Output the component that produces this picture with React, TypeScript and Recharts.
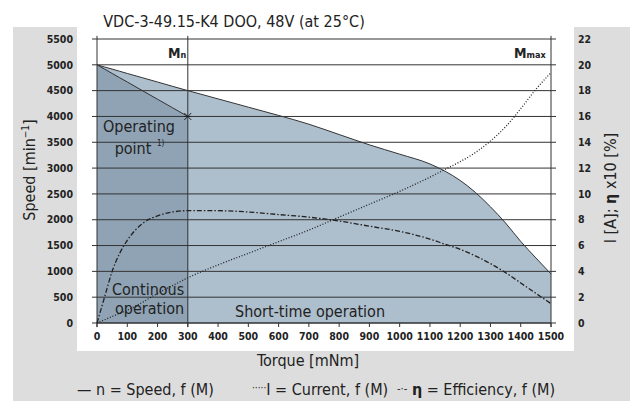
import React from "react";
import {
  ComposedChart,
  Area,
  Line,
  XAxis,
  YAxis,
  ReferenceLine,
  ReferenceDot,
} from "recharts";

// torque points [mNm] and the values read at each
const torque = [0, 25, 50, 75, 100, 150, 200, 250, 300, 400, 500, 600, 700, 800, 900, 1000, 1100, 1150, 1200, 1250, 1300, 1350, 1400, 1450, 1500];
const speed = [5000, 4958, 4917, 4875, 4833, 4750, 4667, 4583, 4500, 4340, 4180, 4020, 3850, 3650, 3450, 3270, 3080, 2940, 2760, 2530, 2250, 1935, 1580, 1260, 950];
const operating = [5000, 4917, 4833, 4750, 4667, 4500, 4333, 4167, 4000, null, null, null, null, null, null, null, null, null, null, null, null, null, null, null, null];
const current = [0, 0.25, 0.5, 0.75, 1.0, 1.6, 2.3, 2.9, 3.5, 4.5, 5.4, 6.3, 7.2, 8.2, 9.2, 10.2, 11.3, 11.9, 12.5, 13.2, 14.1, 15.2, 16.6, 18.1, 19.4];
const efficiency = [0, 2.0, 4.0, 5.4, 6.4, 7.7, 8.3, 8.6, 8.7, 8.7, 8.6, 8.4, 8.2, 7.9, 7.5, 7.1, 6.5, 6.1, 5.7, 5.2, 4.6, 3.9, 3.1, 2.3, 1.5];

const speedTicks = [0, 500, 1000, 1500, 2000, 2500, 3000, 3500, 4000, 4500, 5000, 5500];
const rightTicks = [0, 2, 4, 6, 8, 10, 12, 14, 16, 18, 20, 22];
const torqueTicks = [0, 100, 200, 300, 400, 500, 600, 700, 800, 900, 1000, 1100, 1200, 1300, 1400, 1500];

const FONT = "'Liberation Sans Narrow', 'DejaVu Sans Condensed', Arial, sans-serif";
const INK = "#222";
const GREY = "#dddddd";
const LIGHT = "#adbecd";
const DARK = "#8fa3b5";

const data = torque.map((t, i) => ({
  torque: t,
  speed: speed[i],
  operating: operating[i],
  current: current[i],
  efficiency: efficiency[i],
}));

const tickStyle = { fontSize: 10.5, fontWeight: 700, fill: INK, fontFamily: FONT };

const Asterisk = (props: any) => {
  const { cx, cy } = props;
  const r = 3.5;
  return (
    <g stroke={INK} strokeWidth={1}>
      <line x1={cx - r} y1={cy - r} x2={cx + r} y2={cy + r} />
      <line x1={cx - r} y1={cy + r} x2={cx + r} y2={cy - r} />
      <line x1={cx - r} y1={cy} x2={cx + r} y2={cy} />
    </g>
  );
};

export default function App() {
  return (
    <div style={{ position: "absolute", left: 0, top: 0, width: 630, height: 401, background: "#fff", fontFamily: FONT }}>
      {/* grey frame around the plot */}
      <div style={{ position: "absolute", left: 13, top: 27, width: 64, height: 374, background: GREY }} />
      <div style={{ position: "absolute", left: 574, top: 27, width: 56, height: 374, background: GREY }} />
      <div style={{ position: "absolute", left: 13, top: 351, width: 617, height: 50, background: GREY }} />

      <div style={{ position: "absolute", left: 0, top: 0 }}>
        <ComposedChart
          width={630}
          height={401}
          data={data}
          margin={{ top: 39, right: 39, bottom: 48, left: 57 }}
        >
          <XAxis
            dataKey="torque"
            type="number"
            domain={[0, 1500]}
            ticks={torqueTicks}
            interval={0}
            height={30}
            tick={tickStyle}
            tickSize={4}
            tickMargin={6}
            axisLine={{ stroke: "#333" }}
            tickLine={{ stroke: "#333" }}
          />
          <YAxis
            yAxisId="left"
            domain={[0, 5500]}
            ticks={speedTicks}
            interval={0}
            width={40}
            tick={tickStyle}
            tickSize={5}
            tickMargin={19}
            axisLine={false}
            tickLine={{ stroke: "#333" }}
          />
          <YAxis
            yAxisId="right"
            orientation="right"
            domain={[0, 22]}
            ticks={rightTicks}
            interval={0}
            width={40}
            tick={tickStyle}
            tickSize={5}
            tickMargin={22}
            axisLine={false}
            tickLine={{ stroke: "#333" }}
          />

          <Area
            yAxisId="left"
            dataKey="speed"
            type="monotone"
            fill={LIGHT}
            fillOpacity={1}
            stroke="#333"
            strokeWidth={1}
            isAnimationActive={false}
          />
          <Area
            yAxisId="left"
            dataKey="operating"
            type="linear"
            fill={DARK}
            fillOpacity={1}
            stroke="#333"
            strokeWidth={1}
            isAnimationActive={false}
          />

          {speedTicks.map((v) => (
            <ReferenceLine key={v} yAxisId="left" y={v} stroke="#333" strokeWidth={1} />
          ))}

          <ReferenceLine
            yAxisId="left"
            segment={[{ x: 0, y: -80 }, { x: 0, y: 5560 }]}
            stroke="#333"
            ifOverflow="visible"
          />
          <ReferenceLine
            yAxisId="left"
            segment={[{ x: 1500, y: -80 }, { x: 1500, y: 5560 }]}
            stroke="#333"
            ifOverflow="visible"
          />
          <ReferenceLine
            yAxisId="left"
            segment={[{ x: 300, y: -80 }, { x: 300, y: 5560 }]}
            stroke="#333"
            ifOverflow="visible"
          />

          <Line
            yAxisId="right"
            dataKey="current"
            type="monotone"
            stroke={INK}
            strokeWidth={1.3}
            strokeDasharray="1 1.8"
            dot={false}
            isAnimationActive={false}
          />
          <Line
            yAxisId="right"
            dataKey="efficiency"
            type="monotone"
            stroke={INK}
            strokeWidth={1.3}
            strokeDasharray="5 2 1.5 2"
            dot={false}
            isAnimationActive={false}
          />

          <ReferenceDot yAxisId="left" x={300} y={4000} r={3} shape={<Asterisk />} />
        </ComposedChart>
      </div>

      <svg
        width={630}
        height={401}
        style={{ position: "absolute", left: 0, top: 0, pointerEvents: "none" }}
        fontFamily={FONT}
        fill={INK}
      >
        <text x={234} y={27} fontSize={16} textAnchor="middle">
          VDC-3-49.15-K4 DOO, 48V (at 25°C)
        </text>

        <text x={168} y={58} fontSize={14} fontWeight={700}>
          M<tspan fontSize={9}>n</tspan>
        </text>
        <text x={514} y={58} fontSize={14} fontWeight={700}>
          M<tspan fontSize={9}>max</tspan>
        </text>

        <text x={139} y={132} fontSize={16} textAnchor="middle">Operating</text>
        <text x={133} y={154} fontSize={16} textAnchor="middle">point</text>
        <text x={157} y={146} fontSize={8}>1)</text>

        <text x={112} y={295} fontSize={16}>Continous</text>
        <text x={115} y={314} fontSize={16}>operation</text>
        <text x={235} y={317} fontSize={16}>Short-time operation</text>

        <text x={308} y={366} fontSize={16} textAnchor="middle">Torque [mNm]</text>

        <text x={35} y={170} fontSize={16} textAnchor="middle" transform="rotate(-90 35 170)">
          Speed [min<tspan dy={-6} fontSize={10}>−1</tspan><tspan dy={6}>]</tspan>
        </text>
        <text x={616} y={188} fontSize={16} textAnchor="middle" transform="rotate(-90 616 188)">
          I [A]; <tspan fontWeight={700}>η</tspan> x10 [%]
        </text>

        <text x={77} y={395} fontSize={16}>
          — n = Speed, f (M)
        </text>
        <text x={252} y={395} fontSize={16}>
          <tspan fontSize={10} dy={-4}>·····</tspan><tspan dy={4}>I = Current, f (M)</tspan>
        </text>
        <text x={397} y={395} fontSize={16}>
          <tspan fontSize={11} dy={-3}>-·-</tspan><tspan dy={3}> </tspan><tspan fontWeight={700}>η</tspan> = Efficiency, f (M)
        </text>
      </svg>
    </div>
  );
}
